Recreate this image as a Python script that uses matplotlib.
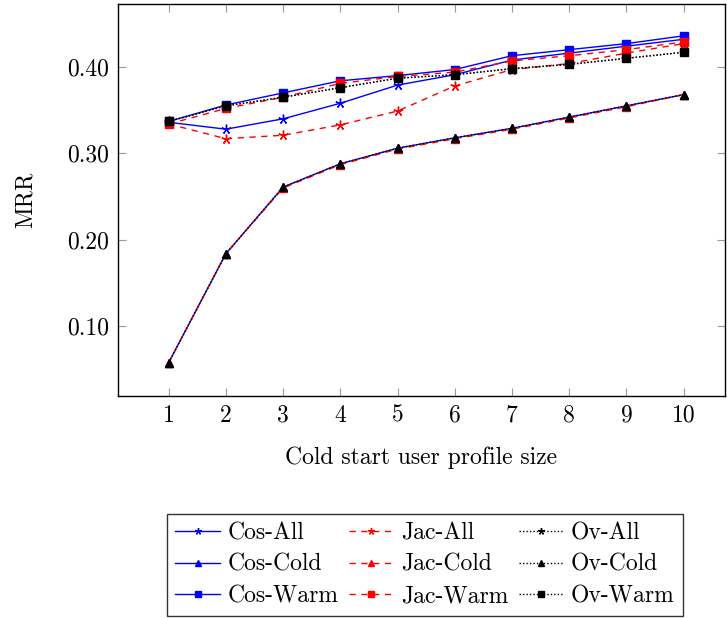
import numpy as np
import matplotlib
matplotlib.use("Agg")
import matplotlib.pyplot as plt

plt.rcParams['font.family'] = 'serif'
plt.rcParams['font.serif'] = ['cmr10', 'DejaVu Serif']
plt.rcParams['mathtext.fontset'] = 'cm'
plt.rcParams['axes.formatter.use_mathtext'] = True

sizes = [1, 2, 3, 4, 5, 6, 7, 8, 9, 10]

cos_all = [0.336, 0.328, 0.340, 0.358, 0.379, 0.391, 0.408, 0.416, 0.424, 0.432]
cos_cold = [0.058, 0.184, 0.261, 0.288, 0.306, 0.318, 0.329, 0.342, 0.355, 0.368]
cos_warm = [0.337, 0.356, 0.370, 0.384, 0.390, 0.397, 0.413, 0.420, 0.427, 0.436]
jac_all = [0.334, 0.317, 0.321, 0.333, 0.349, 0.378, 0.397, 0.404, 0.416, 0.427]
jac_cold = [0.058, 0.184, 0.260, 0.287, 0.305, 0.317, 0.328, 0.341, 0.354, 0.368]
jac_warm = [0.334, 0.352, 0.365, 0.381, 0.389, 0.394, 0.407, 0.413, 0.420, 0.429]
ov_all = [0.337, 0.355, 0.365, 0.376, 0.387, 0.391, 0.398, 0.403, 0.410, 0.417]
ov_cold = [0.058, 0.184, 0.261, 0.288, 0.306, 0.318, 0.329, 0.342, 0.355, 0.368]
ov_warm = [0.337, 0.355, 0.365, 0.376, 0.387, 0.391, 0.398, 0.403, 0.410, 0.417]

yticks = [0.10, 0.20, 0.30, 0.40]
ytick_labels = ["0.10", "0.20", "0.30", "0.40"]

star = (5, 2, 0)
dashed = (0, (4.5, 4))
dotted = (0, (1, 1.5))

fig = plt.figure(figsize=(7.27, 6.18), dpi=100)
ax = fig.add_axes([0.162, 0.359, 0.835, 0.6345])

series = [
    ("Cos-All", cos_all, 'blue', '-', star, 7),
    ("Cos-Cold", cos_cold, 'blue', '-', '^', 6),
    ("Cos-Warm", cos_warm, 'blue', '-', 's', 6),
    ("Jac-All", jac_all, 'red', dashed, star, 7),
    ("Jac-Cold", jac_cold, 'red', dashed, '^', 6),
    ("Jac-Warm", jac_warm, 'red', dashed, 's', 6),
    ("Ov-All", ov_all, 'black', dotted, star, 7),
    ("Ov-Cold", ov_cold, 'black', dotted, '^', 6),
    ("Ov-Warm", ov_warm, 'black', dotted, 's', 6),
]

for label, vals, col, ls, mk, ms in series:
    ax.plot(sizes, vals, color=col, linestyle=ls, linewidth=1.0, marker=mk,
            markersize=ms, markerfacecolor=col, markeredgecolor=col,
            markeredgewidth=1.0, label=label)

ax.set_xlim(0.11, 10.72)
ax.set_ylim(0.0192, 0.4728)
ax.set_xticks(sizes)
ax.set_xticklabels([str(s) for s in sizes])
ax.set_yticks(yticks)
ax.set_yticklabels(ytick_labels)
ax.tick_params(direction='in', length=6, width=0.8, color='#999999',
               labelsize=17, top=True, right=True, pad=6)
for sp in ax.spines.values():
    sp.set_linewidth(1.0)

ax.set_xlabel("Cold start user profile size", fontsize=17, labelpad=14)
ax.set_ylabel("MRR", fontsize=17, labelpad=22)

leg = ax.legend(loc='upper left', bbox_to_anchor=(167 / 727, 1 - 514 / 618),
                bbox_transform=fig.transFigure, borderaxespad=0, ncol=3,
                fontsize=17, frameon=True, fancybox=False, edgecolor='black',
                handlelength=1.9, columnspacing=0.45, handletextpad=0.3,
                labelspacing=0.4, borderpad=0.35, markerscale=0.7)
leg.get_frame().set_linewidth(1.0)

fig.savefig("out.png", dpi=100)
